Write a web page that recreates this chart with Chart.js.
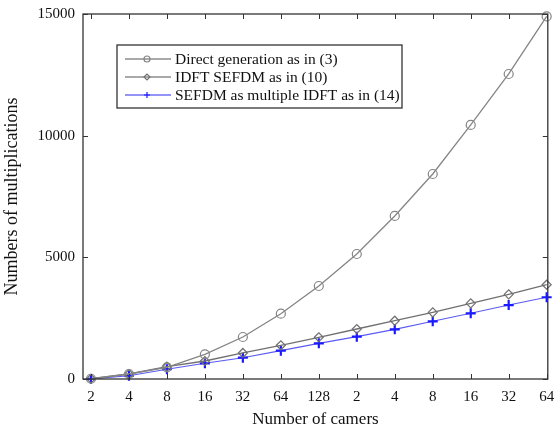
<!DOCTYPE html>
<html>
<head>
<meta charset="utf-8">
<script src="https://cdn.jsdelivr.net/npm/chart.js@4.4.0/dist/chart.umd.min.js"></script>
<style>
  html, body { margin: 0; padding: 0; background: #fff; }
  #wrap { width: 555px; height: 428px; }
</style>
</head>
<body>
<div id="wrap"><canvas id="chart" width="555" height="428"></canvas></div>
<script>
// tick labels along the x axis (two groups of camera counts)
const xLabels = ['2', '4', '8', '16', '32', '64', '128', '2', '4', '8', '16', '32', '64'];

// series
const directGen = [10, 205, 480, 1015, 1726, 2684, 3822, 5137, 6700, 8425, 10440, 12535, 14900];
const idftSefdm = [10, 205, 505, 740, 1070, 1385, 1715, 2055, 2395, 2740, 3110, 3480, 3875];
const multiIdft = [5, 135, 400, 645, 875, 1165, 1465, 1740, 2040, 2370, 2700, 3040, 3360];

const yTicks = [0, 5000, 10000, 15000];

const serif = 'Liberation Serif, Times New Roman, serif';

const toPoints = arr => arr.map((v, i) => ({ x: i, y: v }));

// matlab-ish frame with inward ticks on all four sides
const framePlugin = {
  id: 'frame',
  afterDatasetsDraw(chart) {
    const { ctx, chartArea: a, scales } = chart;
    ctx.save();
    ctx.strokeStyle = '#333';
    ctx.lineWidth = 1.3;
    ctx.strokeRect(a.left, a.top, a.right - a.left, a.bottom - a.top);
    ctx.lineWidth = 1;
    ctx.beginPath();
    scales.x.ticks.forEach(t => {
      const px = Math.round(scales.x.getPixelForValue(t.value)) + 0.5;
      ctx.moveTo(px, a.bottom); ctx.lineTo(px, a.bottom - 5);
      ctx.moveTo(px, a.top); ctx.lineTo(px, a.top + 5);
    });
    scales.y.ticks.forEach(t => {
      const py = Math.round(scales.y.getPixelForValue(t.value)) + 0.5;
      ctx.moveTo(a.left, py); ctx.lineTo(a.left + 5, py);
      ctx.moveTo(a.right, py); ctx.lineTo(a.right - 5, py);
    });
    ctx.stroke();
    ctx.restore();
  }
};

// boxed legend inside the plot
const legendPlugin = {
  id: 'boxLegend',
  afterDraw(chart) {
    const { ctx } = chart;
    const x0 = 117, y0 = 45, w = 285, h = 63;
    ctx.save();
    ctx.fillStyle = '#fff';
    ctx.fillRect(x0, y0, w, h);
    ctx.strokeStyle = '#333';
    ctx.lineWidth = 1.3;
    ctx.strokeRect(x0, y0, w, h);
    ctx.font = '15.5px ' + serif;
    ctx.textBaseline = 'middle';
    chart.data.datasets.forEach((ds, i) => {
      const y = y0 + 14 + i * 18;
      ctx.strokeStyle = ds.legendColor;
      ctx.lineWidth = 1.2;
      ctx.beginPath();
      ctx.moveTo(x0 + 8, y); ctx.lineTo(x0 + 54, y);
      ctx.stroke();
      ctx.fillStyle = ds.pointBackgroundColor;
      ctx.strokeStyle = ds.pointBorderColor;
      Chart.helpers.drawPoint(ctx, {
        pointStyle: ds.pointStyle, radius: 3, borderWidth: ds.pointBorderWidth * 0.8, rotation: 0
      }, x0 + 30, y);
      ctx.fillStyle = '#111';
      ctx.fillText(ds.label, x0 + 58, y + 1);
    });
    ctx.restore();
  }
};

new Chart(document.getElementById('chart'), {
  type: 'line',
  data: {
    datasets: [
      {
        label: 'Direct generation as in (3)',
        data: toPoints(directGen),
        borderColor: '#858585',
        legendColor: '#555',
        borderWidth: 1.3,
        pointStyle: 'circle',
        pointRadius: 4.5,
        pointBorderColor: '#858585',
        pointBackgroundColor: 'rgba(255,255,255,0)',
        pointBorderWidth: 1.2,
      },
      {
        label: 'IDFT SEFDM as in (10)',
        data: toPoints(idftSefdm),
        borderColor: '#707070',
        legendColor: '#555',
        borderWidth: 1.3,
        pointStyle: 'rectRot',
        pointRadius: 4.5,
        pointBorderColor: '#707070',
        pointBackgroundColor: 'rgba(255,255,255,0)',
        pointBorderWidth: 1.2,
      },
      {
        label: 'SEFDM as multiple IDFT as in (14)',
        data: toPoints(multiIdft),
        borderColor: '#5a5af5',
        legendColor: '#2a2af0',
        borderWidth: 1.1,
        pointStyle: 'cross',
        pointRadius: 5,
        pointBorderColor: '#1a1aff',
        pointBackgroundColor: '#1a1aff',
        pointBorderWidth: 2.2,
      }
    ]
  },
  options: {
    responsive: false,
    animation: false,
    clip: false,
    layout: { padding: { top: 14, right: 4, left: 0, bottom: 0 } },
    plugins: { legend: { display: false }, tooltip: { enabled: false } },
    elements: { line: { tension: 0 } },
    scales: {
      x: {
        type: 'linear',
        min: -0.21,
        max: 12.03,
        afterBuildTicks: s => { s.ticks = xLabels.map((_, i) => ({ value: i })); },
        afterFit: s => { s.height = 49; s.paddingLeft = 0; s.paddingRight = 0; },
        grid: { display: false, drawTicks: false },
        border: { display: false },
        ticks: {
          autoSkip: false,
          maxRotation: 0,
          padding: 9,
          color: '#111',
          font: { family: serif, size: 15 },
          callback: v => xLabels[v]
        },
        title: {
          display: true,
          text: 'Number of camers',
          color: '#111',
          font: { family: serif, size: 17, lineHeight: 1.0 },
          padding: { top: 0, bottom: 0 }
        }
      },
      y: {
        min: 0,
        max: 15000,
        afterBuildTicks: s => { s.ticks = yTicks.map(v => ({ value: v })); },
        afterFit: s => { s.width = 83; s.paddingTop = 0; s.paddingBottom = 0; },
        grid: { display: false, drawTicks: false },
        border: { display: false },
        ticks: {
          padding: 8,
          color: '#111',
          font: { family: serif, size: 15 },
          callback: v => String(v)
        },
        title: {
          display: true,
          text: 'Numbers of multiplications',
          color: '#111',
          font: { family: serif, size: 18, lineHeight: 1.0 },
          padding: { top: 3, bottom: 0 }
        }
      }
    }
  },
  plugins: [framePlugin, legendPlugin]
});
</script>
</body>
</html>
